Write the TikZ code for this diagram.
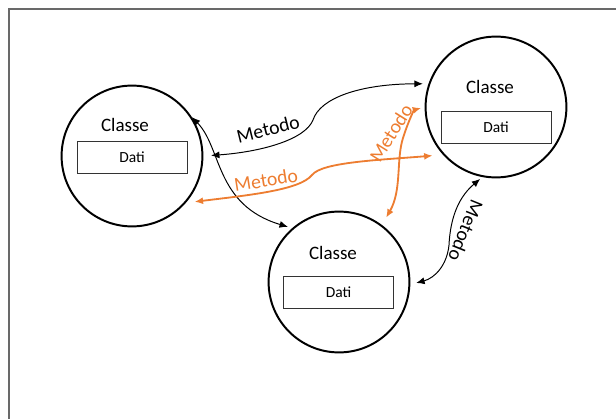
\documentclass[tikz,border=0pt]{standalone}
\usepackage{fontspec}
\setmainfont{Carlito}
\usetikzlibrary{positioning,arrows.meta}
\definecolor{metorange}{RGB}{237,125,49}
\definecolor{framegray}{RGB}{105,105,105}

\begin{document}
\begin{tikzpicture}[x=0.025cm,y=-0.025cm,>={Latex[length=6pt,width=5pt]},
	classe/.style={circle,draw=black,line width=1.4pt,minimum size=3.52cm,inner sep=0pt},
	dati/.style={draw=black!80,line width=0.6pt,minimum width=2.75cm,minimum height=0.8cm,font=\fontsize{11}{13}\selectfont},
	titolo/.style={font=\fontsize{13.5}{16}\selectfont},
	metodo/.style={font=\fontsize{14}{17}\selectfont},
	freccia/.style={<->,line width=0.7pt},
	arancio/.style={<->,line width=1.3pt,draw=metorange}]

		\useasboundingbox (0,0) rectangle (616,419);
		% the frame
		\draw[framegray,line width=1.2pt] (9,419) -- (9,9) -- (616,9);

		% the three classes
		\node[classe] (cls1) at (132,156) {};
		\node[titolo] (tit1) at (125,125) {Classe};
		\node[dati] (dati1) at (132,157) {Dati};

		\node[classe] (cls2) at (496,107) {};
		\node[titolo] (tit2) at (490,87) {Classe};
		\node[dati] (dati2) at (496,127.5) {Dati};

		\node[classe] (cls3) at (339,282) {};
		\node[titolo] (tit3) at (333,253) {Classe};
		\node[dati] (dati3) at (338.5,292) {Dati};

		% black methods
		\draw[freccia,shorten <=0.19cm,shorten >=0.14cm] (cls1.0) .. controls (260,152) and (305,140) .. (313,120)
			.. controls (320,98) and (360,84) .. (cls2.161);
		\node[metodo,rotate=14] (met1) at (268,129) {Metodo};

		\draw[freccia,shorten >=0.11cm] (cls1.33) .. controls (222,148) and (215,205) .. (cls3.131.6);

		\draw[freccia,shorten <=0.07cm,shorten >=0.15cm] (cls2.-101.5) .. controls (455,200) and (450,225) .. (449,245)
			.. controls (447,265) and (435,278) .. (cls3.-2.4);
		\node[metodo,rotate=-112] (met2) at (466,231) {Metodo};

		% orange methods
		\draw[arancio,shorten <=0.22cm,shorten >=0.26cm] (cls1.-41.8) .. controls (250,195) and (300,190) .. (312,175)
			.. controls (322,162) and (380,160) .. (cls2.-138);
		\node[metodo,text=metorange,rotate=9] (met3) at (266,180) {Metodo};

		\draw[arancio,shorten <=0.21cm,shorten >=0.09cm] (cls3.53.9) .. controls (402,190) and (396,160) .. (403,138)
			.. controls (408,122) and (414,110) .. (cls2.180);
		\node[metodo,text=metorange,rotate=58] (met4) at (391,133) {Metodo};

	\end{tikzpicture}
\end{document}
